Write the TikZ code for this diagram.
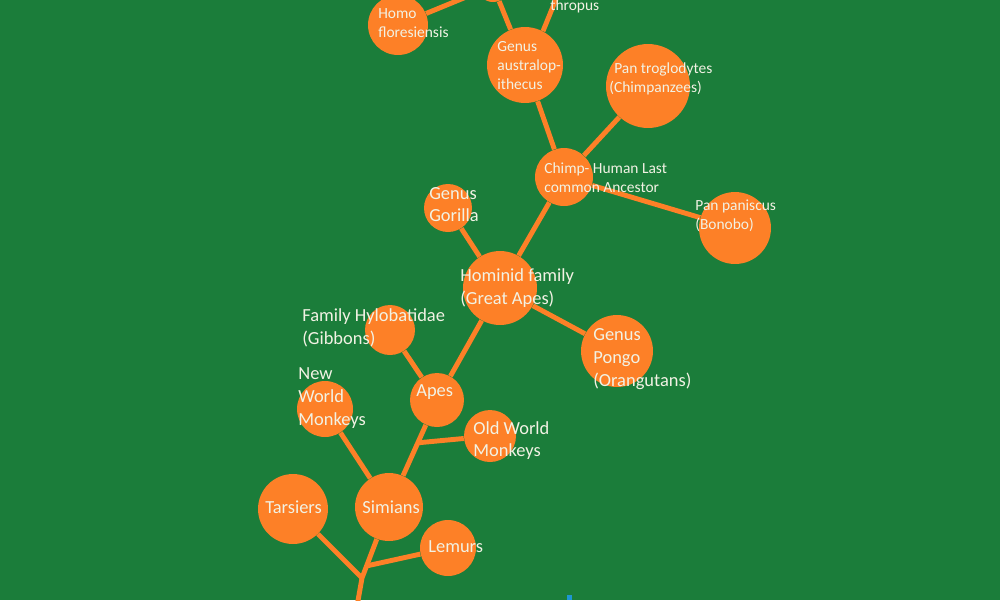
\documentclass[tikz,border=0pt]{standalone}
\usepackage{fontspec}
\setmainfont{Carlito}
\usepackage{xcolor}
\usepackage{tikz}
\usetikzlibrary{calc}
\definecolor{treegreen}{RGB}{27,125,58}
\definecolor{branchorange}{RGB}{253,128,39}
\definecolor{labelwhite}{RGB}{242,242,228}
\definecolor{markblue}{RGB}{30,150,210}

\begin{document}
\begin{tikzpicture}[x=0.02cm, y=-0.02cm,
		bub/.style={circle, fill=branchorange, inner sep=0pt, minimum size=#1*0.04cm},
		branch/.style={draw=branchorange, line width=2.8pt, line join=round},
		lbl/.style={anchor=west, align=left, inner sep=0pt, text=labelwhite, font=\fontsize{10.5}{13}\selectfont},
		lblsmall/.style={lbl, font=\fontsize{8.8}{10.8}\selectfont}]
			\useasboundingbox (0,0) rectangle (1000,600);
			\clip (0,0) rectangle (1000,600);
			\fill[treegreen] (0,0) rectangle (1000,600);
			
			\node[bub=16] (homo) at (493,-14) {};
			\node[bub=35] (paran) at (580,-60) {};
			\node[bub=30] (flores) at (398,25) {};
			\node[bub=38] (austral) at (525,65) {};
			\node[bub=42] (trog) at (648,86) {};
			\node[bub=29] (lca) at (564,177) {};
			\node[bub=36] (panis) at (735,228) {};
			\node[bub=24] (gorilla) at (448,208) {};
			\node[bub=37] (hominid) at (500,288) {};
			\node[bub=25] (gibbon) at (390,330) {};
			\node[bub=36] (pongo) at (617,351) {};
			\node[bub=27] (apes) at (437,400) {};
			\node[bub=28] (newworld) at (325,409) {};
			\node[bub=26] (oldworld) at (490,436) {};
			\node[bub=35] (tarsier) at (293,509) {};
			\node[bub=34] (simian) at (389,507) {};
			\node[bub=28] (lemur) at (448,548) {};
			
			\coordinate (root) at (356,612);
			\coordinate (fork) at (362,578);
			\coordinate (lemfork) at ($(fork)!0.17!(simian)$);
			\coordinate (owmfork) at ($(simian)!0.6!(apes)$);
			
			\draw[branch] (root) -- (fork) -- (simian);
			\draw[branch] (tarsier) -- (fork);
			\draw[branch] (lemfork) -- (lemur);
			\draw[branch] (newworld) -- (simian);
			\draw[branch] (simian) -- (apes);
			\draw[branch] (owmfork) -- (oldworld);
			\draw[branch] (apes) -- (gibbon);
			\draw[branch] (apes) -- (hominid);
			\draw[branch] (hominid) -- (pongo);
			\draw[branch] (hominid) -- (gorilla);
			\draw[branch] (hominid) -- (lca);
			\draw[branch] (lca) -- (trog);
			\draw[branch] (lca) -- (panis);
			\draw[branch] (lca) -- (austral);
			\draw[branch] (austral) -- (homo);
			\draw[branch] (flores) -- (homo);
			\draw[branch] (austral.62) -- (paran);
			
			\node[lblsmall] (paran-t) at (550,6.5) {thropus};
			\node[lblsmall] (flores-t) at (378,23.5) {Homo\\floresiensis};
			\node[lblsmall] (austral-t) at (497,65.5) {Genus\\australop-\\ithecus};
			\node[lblsmall] (trog-t) at (609,78.5) {\hspace*{2.8pt}Pan troglodytes\\(Chimpanzees)};
			\node[lblsmall] (lca-t) at (544,178) {Chimp- Human Last\\common Ancestor};
			\node[lblsmall] (panis-t) at (695,216) {Pan paniscus\\(Bonobo)};
			\node[lbl] (gorilla-t) at (429,204.5) {Genus\\Gorilla};
			\node[lbl] (hominid-t) at (460,288) {Hominid family\\(Great Apes)};
			\node[lbl] (gibbon-t) at (302,327.5) {Family Hylobatidae\\(Gibbons)};
			\node[lbl] (pongo-t) at (593,359) {Genus\\Pongo\\(Orangutans)};
			\node[lbl] (apes-t) at (416,392) {Apes};
			\node[lbl] (newworld-t) at (298,398) {New\\World\\Monkeys};
			\node[lbl] (oldworld-t) at (473,440.5) {Old World\\Monkeys};
			\node[lbl] (tarsier-t) at (265,507.5) {Tarsiers};
			\node[lbl] (simian-t) at (362,507.5) {Simians};
			\node[lbl] (lemur-t) at (428,546.5) {Lemurs};
			
			\fill[markblue] (567,595) rectangle (572,600);
		\end{tikzpicture}
\end{document}
